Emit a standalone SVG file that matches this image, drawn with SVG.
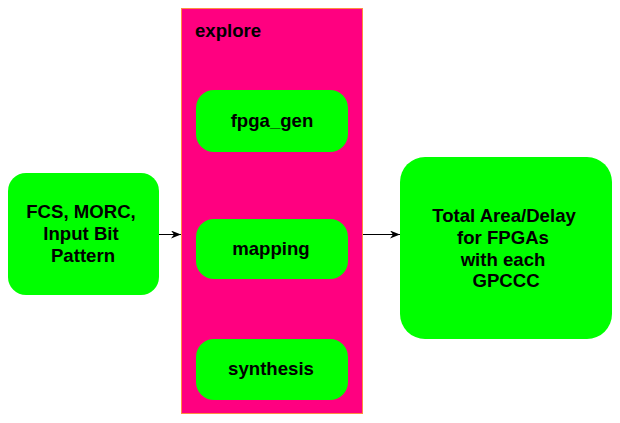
<svg xmlns="http://www.w3.org/2000/svg" width="620" height="423" viewBox="0 0 620 423">
<defs>
<style>
.node{fill:#00ff00;stroke:none}
.cluster{fill:#ff0080;stroke:#ff8c40;stroke-width:1}
text{font-family:"Liberation Sans",Arial,sans-serif;font-weight:bold;font-size:18.6px;fill:#000;text-anchor:middle}
.edge{stroke:#000;stroke-width:1;fill:none}
</style>
<marker id="arr" viewBox="0 0 10 8" refX="10" refY="4" markerWidth="10" markerHeight="8" markerUnits="userSpaceOnUse" orient="auto">
<path d="M0,0 L10,4 L0,8 L3,4 Z" fill="#000"/>
</marker>
</defs>
<rect width="620" height="423" fill="#fff"/>
<g id="explore">
<rect class="cluster" x="181.5" y="8.5" width="181" height="405"/>
<text x="195" y="37" style="text-anchor:start">explore</text>
</g>
<g id="fpga_gen">
<rect class="node" x="196" y="90" width="152" height="62" rx="18"/>
<text x="272" y="127">fpga_gen</text>
</g>
<g id="mapping">
<rect class="node" x="196" y="219" width="152" height="60" rx="18"/>
<text x="271" y="255">mapping</text>
</g>
<g id="synthesis">
<rect class="node" x="196" y="339" width="152" height="61" rx="18"/>
<text x="271" y="375">synthesis</text>
</g>
<g id="input">
<rect class="node" x="8" y="173" width="151" height="122" rx="18"/>
<text x="81" y="218">FCS, MORC,</text>
<text x="81" y="240">Input Bit</text>
<text x="83" y="262">Pattern</text>
</g>
<g id="output">
<rect class="node" x="400" y="157" width="212" height="182" rx="25"/>
<text x="504" y="222">Total Area/Delay</text>
<text x="503" y="244">for FPGAs</text>
<text x="503" y="266">with each</text>
<text x="506" y="287">GPCCC</text>
</g>
<g id="edges">
<line class="edge" x1="159" y1="234.5" x2="181" y2="234.5" marker-end="url(#arr)"/>
<line class="edge" x1="363" y1="234.5" x2="400" y2="234.5" marker-end="url(#arr)"/>
</g>
</svg>
